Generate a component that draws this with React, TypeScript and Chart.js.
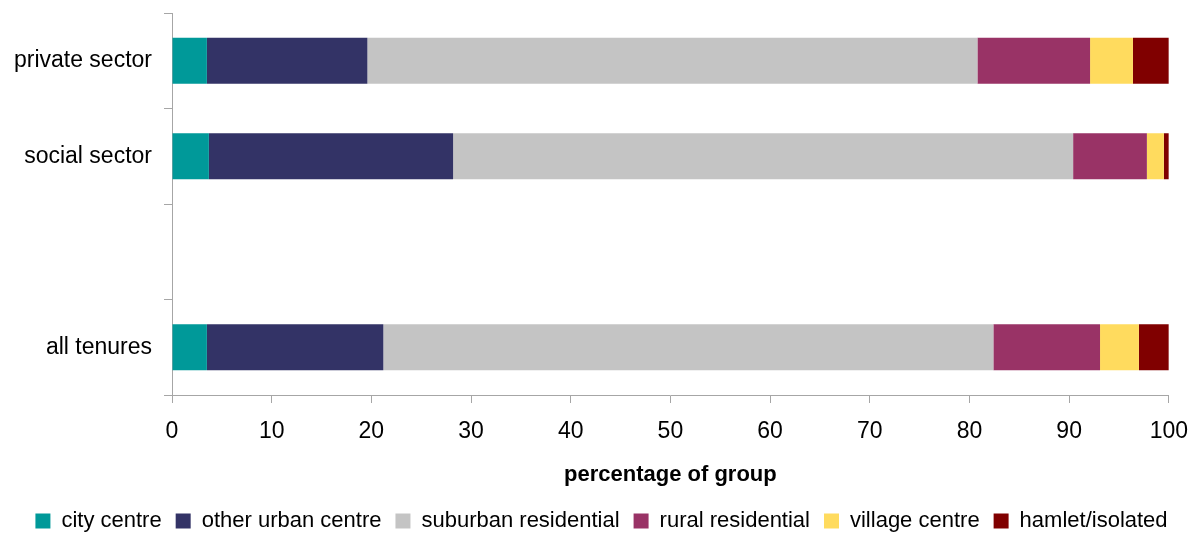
import React, { useEffect, useRef } from "react";
import { Chart, registerables } from "chart.js";

Chart.register(...registerables);

const categories = ["private sector", "social sector", "", "all tenures"];
const seriesNames = [
  "city centre",
  "other urban centre",
  "suburban residential",
  "rural residential",
  "village centre",
  "hamlet/isolated",
];
const cityCentre = [3.5, 3.7, null, 3.5];
const otherUrbanCentre = [16.1, 24.5, null, 17.7];
const suburbanResidential = [61.2, 62.2, null, 61.2];
const ruralResidential = [11.3, 7.4, null, 10.7];
const villageCentre = [4.3, 1.7, null, 3.9];
const hamletIsolated = [3.6, 0.5, null, 3.0];
const xTicks = [0, 10, 20, 30, 40, 50, 60, 70, 80, 90, 100];
const colors = ["#009999", "#333366", "#C4C4C4", "#993366", "#FFDB5E", "#800000"];

const FONT = "'Liberation Sans', Arial, sans-serif";
const AXIS = "#A6A6A6";

export default function App() {
  const ref = useRef<HTMLCanvasElement | null>(null);
  useEffect(() => {
    document.body.style.margin = "0";
    const values = [
      cityCentre,
      otherUrbanCentre,
      suburbanResidential,
      ruralResidential,
      villageCentre,
      hamletIsolated,
    ];
    const legendCenter = {
      id: "legendCenter",
      afterLayout(chart: any) {
        const l = chart.legend;
        if (l) {
          l.left = 0;
          l.right = chart.width;
          l.width = chart.width;
        }
      },
    };
    const chart = new Chart(ref.current as HTMLCanvasElement, {
      type: "bar",
      data: {
        labels: categories,
        datasets: seriesNames.map((name, i) => ({
          label: name,
          data: values[i],
          backgroundColor: colors[i],
          borderWidth: 0,
          barPercentage: 0.48,
          categoryPercentage: 1,
        })),
      },
      plugins: [legendCenter],
      options: {
        indexAxis: "y",
        responsive: false,
        animation: false,
        maintainAspectRatio: false,
        layout: { padding: { top: 13, right: 32, left: 0, bottom: -7 } },
        plugins: {
          tooltip: { enabled: false },
          legend: {
            position: "bottom",
            labels: {
              boxWidth: 15,
              boxHeight: 15,
              padding: 14,
              color: "#000",
              font: { family: FONT, size: 22 },
            },
          },
        },
        scales: {
          x: {
            stacked: true,
            min: 0,
            max: 100,
            afterBuildTicks: (scale: any) => {
              scale.ticks = xTicks.map((v) => ({ value: v }));
            },
            afterFit: (scale: any) => {
              scale.height = 101;
            },
            border: { display: true, color: AXIS, width: 1 },
            grid: {
              drawOnChartArea: false,
              drawTicks: true,
              tickLength: 8,
              color: AXIS,
            },
            ticks: {
              color: "#000",
              padding: 15,
              font: { family: FONT, size: 23 },
            },
            title: {
              display: true,
              text: "percentage of group",
              color: "#000",
              font: { family: FONT, size: 22, weight: "bold" },
              padding: { top: 0, bottom: 8 },
            },
          },
          y: {
            stacked: true,
            afterFit: (scale: any) => {
              scale.width = 172;
              scale.paddingTop = 0;
              scale.paddingBottom = 0;
            },
            border: { display: true, color: AXIS, width: 1 },
            grid: {
              offset: true,
              drawOnChartArea: false,
              drawTicks: true,
              tickLength: 8,
              color: AXIS,
            },
            ticks: {
              color: "#000",
              padding: 12,
              font: { family: FONT, size: 23 },
            },
          },
        },
      },
    } as any);
    return () => chart.destroy();
  }, []);
  return (
    <div style={{ width: 1203, height: 535 }}>
      <canvas ref={ref} width={1203} height={535} />
    </div>
  );
}
